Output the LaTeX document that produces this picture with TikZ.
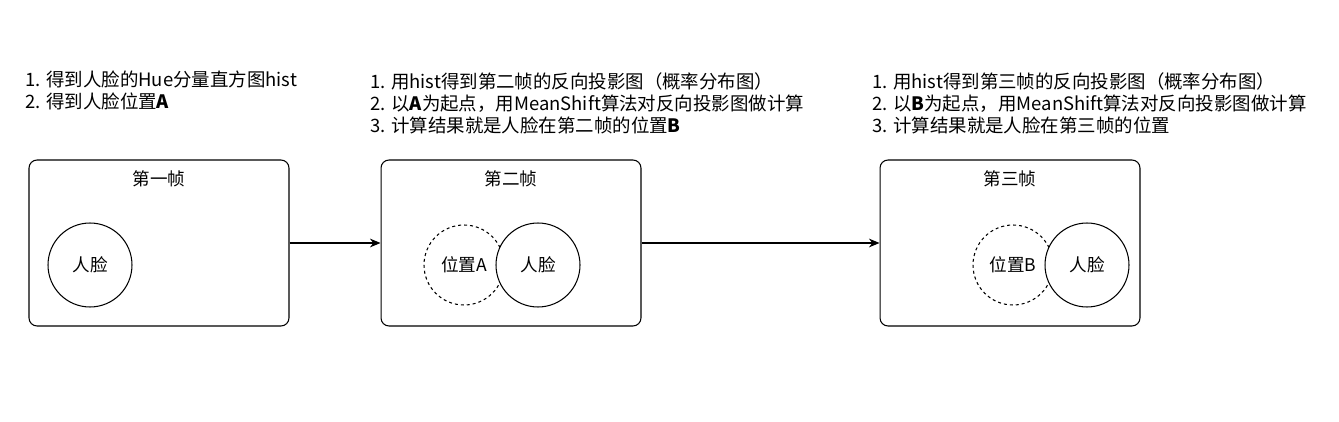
\documentclass[tikz,border=0pt]{standalone}
\usepackage{fontspec}
\setmainfont{Noto Sans CJK SC}
\usetikzlibrary{positioning,arrows.meta}

\tikzset{
    frame/.style={draw, rounded corners=0.16cm, minimum width=5.2cm, minimum height=3.32cm, line width=0.6pt},
    face/.style={draw, circle, fill=white, minimum size=1.68cm, inner sep=0pt, line width=0.6pt},
    guess/.style={draw, circle, dash pattern=on 1.7pt off 1.7pt, minimum size=1.6cm, inner sep=0pt, line width=0.6pt},
    note/.style={align=left, anchor=north west, inner sep=0pt, font=\fontsize{10.5pt}{12.5pt}\selectfont},
    arr/.style={-{Stealth[length=6pt,width=5pt]}, line width=0.6pt}
}

\begin{document}
\begin{tikzpicture}[x=0.02cm, y=-0.02cm, font=\fontsize{10pt}{12.5pt}\selectfont]
    \useasboundingbox (0,0) rectangle (1339,422);

    \def\Yf{243}; % frames
    \def\Yc{265}; % circles

    % first frame
    \node[frame] (f1) at (159, \Yf) {};
    \node[below=0.1cm of f1.north] (t1) {第一帧};
    \node[face] (face1) at (90, \Yc) {人脸};
    \node[note] (n1) at (25, 71) {1. 得到人脸的Hue分量直方图hist\\2. 得到人脸位置\textbf{A}};

    % second frame
    \node[frame] (f2) at (511, \Yf) {};
    \node[below=0.1cm of f2.north] (t2) {第二帧};
    \node[guess] (posA) at (464, \Yc) {位置A};
    \node[face] (face2) at (538, \Yc) {人脸};
    \node[note] (n2) at (370, 72) {1. 用hist得到第二帧的反向投影图（概率分布图）\\2. 以\textbf{A}为起点，用MeanShift算法对反向投影图做计算\\3. 计算结果就是人脸在第二帧的位置\textbf{B}};

    % third frame
    \node[frame] (f3) at (1010, \Yf) {};
    \node[below=0.1cm of f3.north] (t3) {第三帧};
    \node[guess] (posB) at (1013, \Yc) {位置B};
    \node[face] (face3) at (1087, \Yc) {人脸};
    \node[note] (n3) at (872, 72) {1. 用hist得到第三帧的反向投影图（概率分布图）\\2. 以\textbf{B}为起点，用MeanShift算法对反向投影图做计算\\3. 计算结果就是人脸在第三帧的位置};

    % arrows
    \draw[arr] (f1) -- (f2);
    \draw[arr] (f2) -- (f3);
\end{tikzpicture}
\end{document}
